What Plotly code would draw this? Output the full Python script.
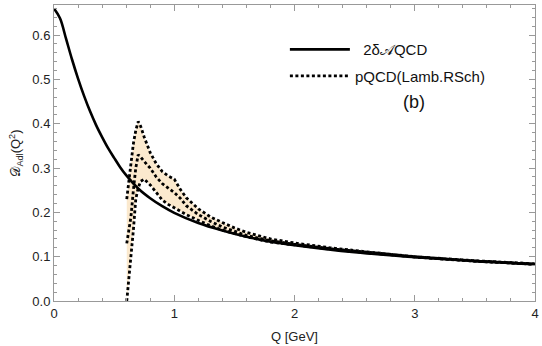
import plotly.graph_objects as go

# Solid curve: 2δAQCD
q_solid = [0, 0.05, 0.1, 0.15, 0.2, 0.25, 0.3, 0.35, 0.4, 0.45, 0.5, 0.55, 0.6, 0.7,
           0.8, 0.9, 1.0, 1.2, 1.4, 1.6, 1.8, 2.0, 2.5, 3.0, 3.5, 4.0]
d_solid = [0.66, 0.638, 0.592, 0.545, 0.502, 0.463, 0.428, 0.397, 0.370, 0.345,
           0.323, 0.302, 0.284, 0.254, 0.232, 0.214, 0.199, 0.176, 0.159, 0.145,
           0.134, 0.126, 0.110, 0.099, 0.090, 0.083]

# Dotted curves: pQCD(Lamb.RSch)
q_dot = [0.605, 0.62, 0.64, 0.66, 0.68, 0.70, 0.72, 0.75, 0.8, 0.85, 0.9, 0.95, 1.0,
         1.05, 1.1, 1.2, 1.3, 1.4, 1.5, 1.6, 1.8, 2.0, 2.3, 2.6, 3.0, 3.5, 4.0]
d_upper = [0.23, 0.26, 0.31, 0.355, 0.385, 0.405, 0.395, 0.37, 0.335, 0.31, 0.292,
           0.282, 0.275, 0.252, 0.233, 0.208, 0.19, 0.177, 0.165, 0.155, 0.14, 0.131,
           0.12, 0.111, 0.100, 0.091, 0.084]
d_middle = [0.13, 0.155, 0.19, 0.25, 0.30, 0.33, 0.325, 0.315, 0.30, 0.28, 0.265,
            0.255, 0.245, 0.232, 0.215, 0.195, 0.18, 0.167, 0.157, 0.148, 0.136,
            0.128, 0.118, 0.110, 0.100, 0.090, 0.083]
d_lower = [0.0, 0.04, 0.10, 0.16, 0.23, 0.255, 0.27, 0.275, 0.262, 0.245, 0.228,
           0.218, 0.21, 0.202, 0.195, 0.182, 0.17, 0.16, 0.152, 0.145, 0.133, 0.126,
           0.117, 0.109, 0.099, 0.090, 0.083]

x_ticks = [0, 1, 2, 3, 4]
y_ticks = [0.0, 0.1, 0.2, 0.3, 0.4, 0.5, 0.6]
y_labels = ["0.0", "0.1", "0.2", "0.3", "0.4", "0.5", "0.6"]

fill_col = "rgb(251,233,206)"
dot_style = dict(color="black", width=2.8, dash="3px,2.5px")

fig = go.Figure()
# fill band
fig.add_trace(go.Scatter(x=q_dot, y=d_lower, mode="lines", line=dict(width=0),
                         showlegend=False, hoverinfo="skip"))
fig.add_trace(go.Scatter(x=q_dot, y=d_upper, mode="lines", line=dict(width=0),
                         fill="tonexty", fillcolor=fill_col, showlegend=False,
                         hoverinfo="skip"))
# solid curve
fig.add_trace(go.Scatter(x=q_solid, y=d_solid, mode="lines", line_shape="spline",
                         line=dict(color="black", width=2.6), legendgroup="a",
                         name="  2δ𝒜QCD"))
# dotted curves
fig.add_trace(go.Scatter(x=q_dot, y=d_upper, mode="lines", line=dot_style,
                         legendgroup="b", name="pQCD(Lamb.RSch)"))
fig.add_trace(go.Scatter(x=q_dot, y=d_middle, mode="lines", line=dot_style,
                         legendgroup="b", showlegend=False))
fig.add_trace(go.Scatter(x=q_dot, y=d_lower, mode="lines", line=dot_style,
                         legendgroup="b", showlegend=False))

axis_common = dict(showgrid=False, zeroline=False, showline=True, linecolor="#999999",
                   linewidth=1, mirror="ticks", ticks="inside", ticklen=6,
                   automargin=False,
                   tickcolor="#999999", tickfont=dict(family="Liberation Sans, Arial",
                                                      size=13, color="#222222"))

fig.update_layout(
    width=542, height=346,
    margin=dict(l=54, r=7, t=5, b=45),
    paper_bgcolor="white", plot_bgcolor="white",
    font=dict(family="Liberation Sans, Arial", size=13, color="#222222"),
    xaxis=dict(range=[0, 4], tickvals=x_ticks,
               minor=dict(ticks="inside", dtick=0.2, ticklen=3, tickcolor="#999999"),
               title=dict(text="Q [GeV]", standoff=12,
                          font=dict(size=13, color="#222222")),
               **axis_common),
    yaxis=dict(range=[0, 0.668], tickvals=y_ticks, ticktext=y_labels,
               minor=dict(ticks="inside", dtick=0.02, ticklen=3, tickcolor="#999999"),
               title=dict(text="𝒟<sub>Adl</sub>(Q<sup>2</sup>)", standoff=8,
                          font=dict(size=13, color="#222222")),
               **axis_common),
    legend=dict(x=0.48, y=0.905, xanchor="left", yanchor="top",
                traceorder="grouped", tracegroupgap=4,
                bgcolor="rgba(0,0,0,0)", font=dict(size=15, color="#111111"),
                itemwidth=60),
    annotations=[dict(text="(b)", x=0.776, y=0.712, xref="paper", yref="paper",
                      showarrow=False, font=dict(size=18, color="#111111"))],
)

fig.write_html("out.html")
